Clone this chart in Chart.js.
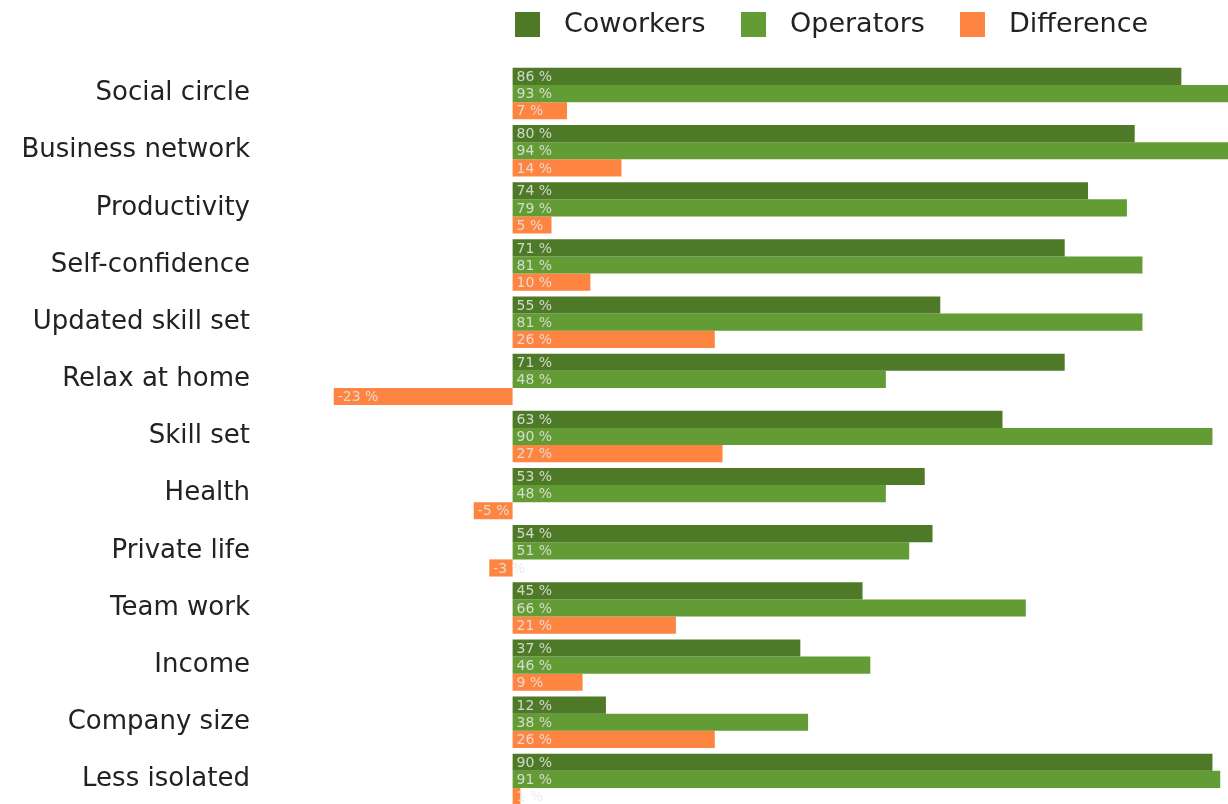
<!DOCTYPE html>
<html><head><meta charset="utf-8">
<script src="https://cdn.jsdelivr.net/npm/chart.js@4/dist/chart.umd.min.js"></script>
<style>html,body{margin:0;padding:0;background:#fff;overflow:hidden}#wrap{position:relative;width:1228px;height:808px}</style>
</head><body><div id="wrap"><canvas id="c"></canvas></div>
<script>
const categories = ['Social circle','Business network','Productivity','Self-confidence','Updated skill set','Relax at home','Skill set','Health','Private life','Team work','Income','Company size','Less isolated'];
const coworkers  = [86, 80, 74, 71, 55, 71, 63, 53, 54, 45, 37, 12, 90];
const operators  = [93, 94, 79, 81, 81, 48, 90, 48, 51, 66, 46, 38, 91];
const difference = [7, 14, 5, 10, 26, -23, 27, -5, -3, 21, 9, 26, 1];
const seriesNames = ['Coworkers', 'Operators', 'Difference'];
const seriesColors = ['#4e7a28', '#639b35', '#fd8541'];
const FONT = '"DejaVu Sans", sans-serif';

const valueLabels = {
  id: 'valueLabels',
  afterDatasetsDraw(chart) {
    const ctx = chart.ctx;
    ctx.save();
    ctx.font = '14px ' + FONT;
    ctx.textBaseline = 'middle';
    ctx.textAlign = 'left';
    ctx.fillStyle = 'rgba(232,232,232,0.85)';
    chart.data.datasets.forEach((ds, di) => {
      const meta = chart.getDatasetMeta(di);
      meta.data.forEach((bar, i) => {
        const p = bar.getProps(['x', 'y', 'base'], true);
        const left = Math.min(p.x, p.base);
        ctx.fillText(ds.data[i] + ' %', left + 4, p.y + 1);
      });
    });
    ctx.restore();
  }
};

const customLegend = {
  id: 'customLegend',
  afterDraw(chart) {
    const ctx = chart.ctx;
    const boxX = [515, 741, 960];
    ctx.save();
    ctx.font = '27px ' + FONT;
    ctx.textBaseline = 'middle';
    ctx.textAlign = 'left';
    chart.data.datasets.forEach((ds, i) => {
      ctx.fillStyle = ds.backgroundColor;
      ctx.fillRect(boxX[i], 12, 25, 25);
      ctx.fillStyle = '#222';
      ctx.fillText(ds.label, boxX[i] + 49, 25);
    });
    ctx.restore();
  }
};

new Chart(document.getElementById('c'), {
  type: 'bar',
  data: {
    labels: categories,
    datasets: [
      { label: seriesNames[0], data: coworkers, backgroundColor: seriesColors[0] },
      { label: seriesNames[1], data: operators, backgroundColor: seriesColors[1] },
      { label: seriesNames[2], data: difference, backgroundColor: seriesColors[2] }
    ]
  },
  options: {
    indexAxis: 'y',
    responsive: true,
    maintainAspectRatio: false,
    animation: false,
    datasets: { bar: { categoryPercentage: 0.9, barPercentage: 1.0 } },
    layout: { padding: { top: 65, left: 0, right: 0, bottom: 0 } },
    plugins: { legend: { display: false }, tooltip: { enabled: false } },
    scales: {
      x: { display: false, min: -33, max: 92 },
      y: {
        grid: { display: false, drawTicks: false },
        border: { display: false },
        ticks: { font: { family: FONT, size: 26 }, color: '#222', padding: 6 },
        afterFit(scale) {
          scale.width = 256;
          scale.paddingTop = 0;
          scale.paddingBottom = 0;
        }
      }
    }
  },
  plugins: [valueLabels, customLegend]
});
</script>
</body></html>
